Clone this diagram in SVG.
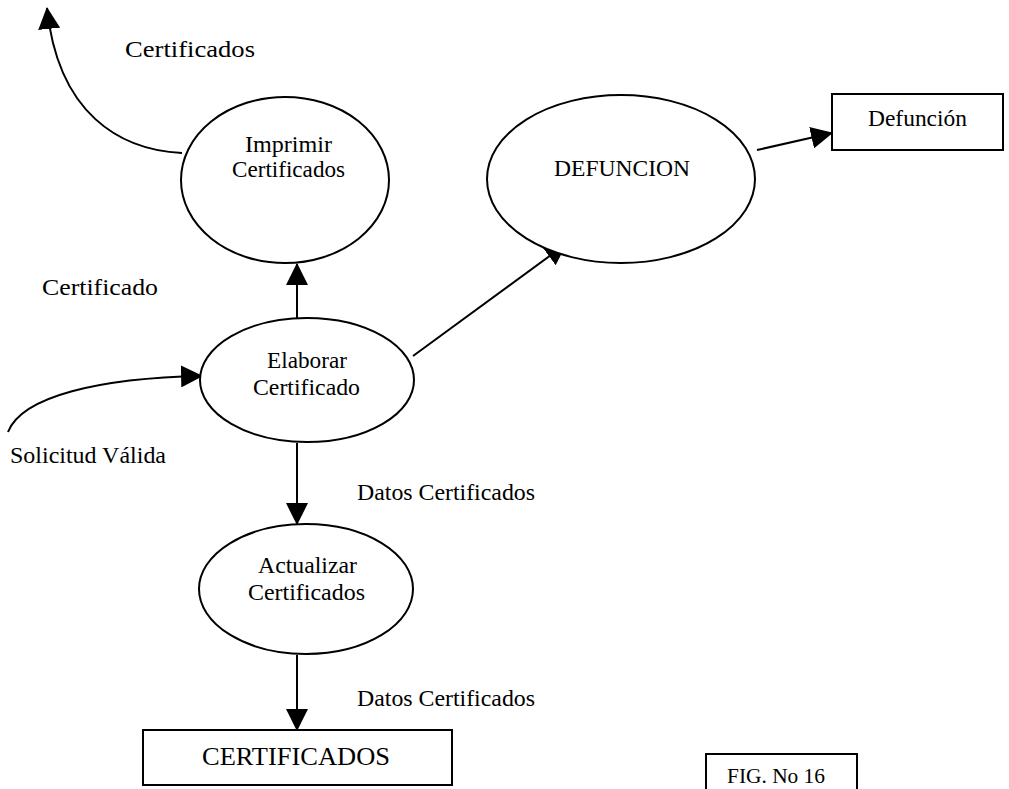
<svg xmlns="http://www.w3.org/2000/svg" width="1009" height="789" viewBox="0 0 1009 789">
  <style>
    .shape { fill: #ffffff; stroke: #000000; stroke-width: 2; }
    .flow { fill: none; stroke: #000000; stroke-width: 2; marker-end: url(#arrow); }
    text { font-family: "Liberation Serif", "Times New Roman", serif; font-size: 23px; fill: #000000; }
    .big { font-size: 26px; }
    .small { font-size: 20px; }
  </style>
  <defs>
    <marker id="arrow" markerUnits="userSpaceOnUse" markerWidth="22" markerHeight="22" viewBox="0 0 20 20" refX="19" refY="10" orient="auto">
      <path d="M0,0 L20,10 L0,20 z" fill="#000000"/>
    </marker>
  </defs>

  <rect width="1009" height="789" fill="#ffffff"/>

  <!-- data flows -->
  <g id="connectors">
    <path class="flow" d="M182,153 C120,150 58,114 47,8"/>
    <path class="flow" d="M297,318 L297,264"/>
    <path class="flow" d="M413,356 L566,244"/>
    <path class="flow" d="M757,150 L832,133"/>
    <path class="flow" d="M8,432 C22,396 100,378 202,376"/>
    <path class="flow" d="M297,443 L297,524"/>
    <path class="flow" d="M297,655 L297,730"/>
  </g>

  <!-- flow labels -->
  <g id="labels">
    <text x="125" y="57" textLength="130" lengthAdjust="spacingAndGlyphs">Certificados</text>
    <text x="42" y="295" textLength="116" lengthAdjust="spacingAndGlyphs">Certificado</text>
    <text x="10" y="463" textLength="156" lengthAdjust="spacingAndGlyphs">Solicitud Válida</text>
    <text x="357" y="500" textLength="178" lengthAdjust="spacingAndGlyphs">Datos Certificados</text>
    <text x="357" y="706" textLength="178" lengthAdjust="spacingAndGlyphs">Datos Certificados</text>
  </g>

  <g id="imprimir">
    <ellipse class="shape" cx="285" cy="180" rx="104" ry="83"/>
    <text x="245" y="152" textLength="87" lengthAdjust="spacingAndGlyphs">Imprimir</text>
    <text x="232" y="177" textLength="113" lengthAdjust="spacingAndGlyphs">Certificados</text>
  </g>

  <g id="defuncion">
    <ellipse class="shape" cx="621" cy="179" rx="134" ry="84"/>
    <text x="554" y="176" textLength="136" lengthAdjust="spacingAndGlyphs">DEFUNCION</text>
  </g>

  <g id="defuncion-store">
    <rect class="shape" x="832" y="94" width="171" height="56"/>
    <text x="868" y="126" textLength="99" lengthAdjust="spacingAndGlyphs">Defunción</text>
  </g>

  <g id="elaborar">
    <ellipse class="shape" cx="307" cy="380" rx="107" ry="62"/>
    <text x="267" y="368" textLength="80" lengthAdjust="spacingAndGlyphs">Elaborar</text>
    <text x="253" y="395" textLength="107" lengthAdjust="spacingAndGlyphs">Certificado</text>
  </g>

  <g id="actualizar">
    <ellipse class="shape" cx="306" cy="589" rx="107" ry="65"/>
    <text x="258" y="573" textLength="99" lengthAdjust="spacingAndGlyphs">Actualizar</text>
    <text x="248" y="600" textLength="117" lengthAdjust="spacingAndGlyphs">Certificados</text>
  </g>

  <g id="certificados-store">
    <rect class="shape" x="143" y="730" width="309" height="55"/>
    <text class="big" x="202" y="765" textLength="188" lengthAdjust="spacingAndGlyphs">CERTIFICADOS</text>
  </g>

  <g id="fig-label">
    <rect class="shape" x="706" y="754" width="151" height="40"/>
    <text class="small" x="727" y="783" textLength="98" lengthAdjust="spacingAndGlyphs">FIG. No 16</text>
  </g>
</svg>
